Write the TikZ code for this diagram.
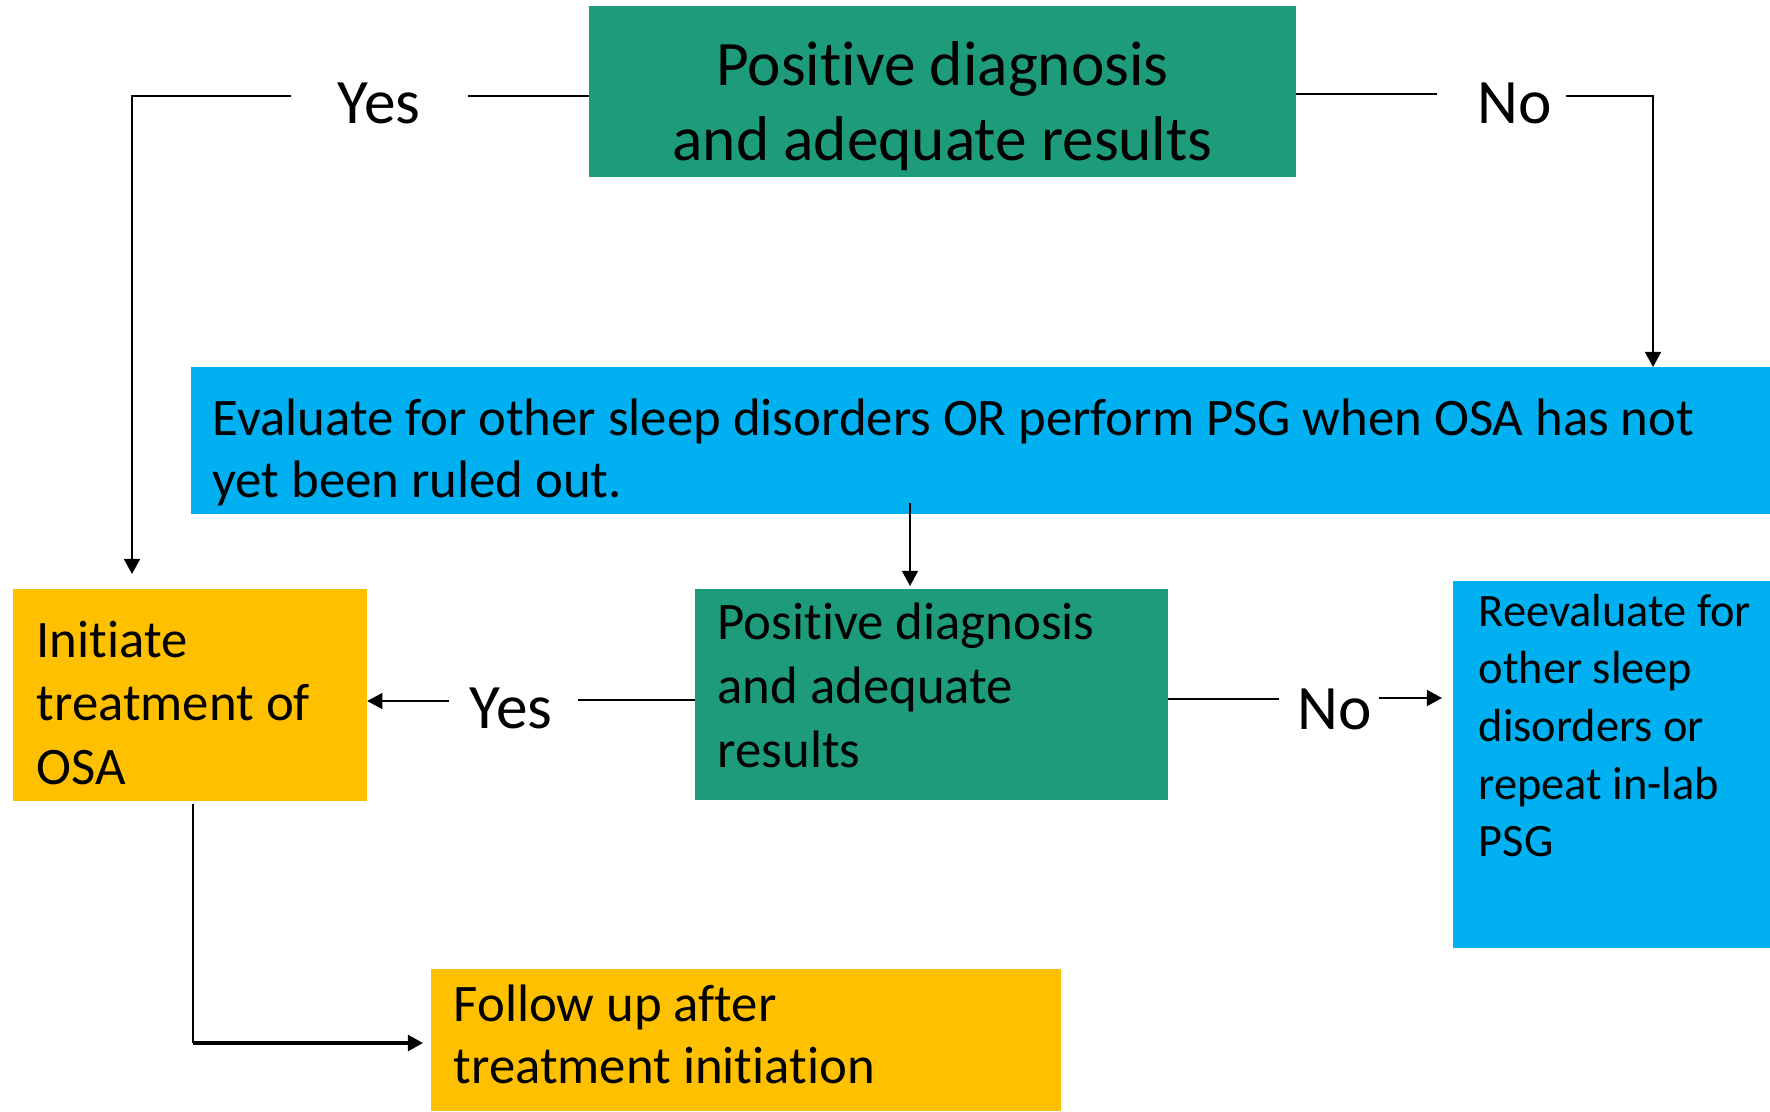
\documentclass[tikz,border=0pt]{standalone}
\usepackage{fontspec}
\setmainfont{Carlito}[Ligatures=NoCommon]
\usetikzlibrary{arrows.meta,calc}
\definecolor{cgreen}{RGB}{30,155,122}
\definecolor{cblue}{RGB}{0,176,240}
\definecolor{cgold}{RGB}{255,192,0}
\begin{document}
\begin{tikzpicture}[x=0.01cm,y=-0.01cm,
 box/.style={draw=none, inner sep=0pt, outer sep=0pt, anchor=north west},
 txt/.style={inner sep=0pt, anchor=base west, align=flush left},
 lbl/.style={inner sep=0pt, anchor=base, font=\fontsize{18}{21.6}\selectfont},
 conn/.style={line width=0.7pt},
 arr/.style={line width=0.7pt, -{Triangle[length=4.3pt,width=4.5pt]}},
]
\useasboundingbox (0,0) rectangle (1770,1111);
% boxes
\node[box, fill=cgreen, minimum width=7.07cm, minimum height=1.71cm] (g1) at (589,6) {};
\node[box, fill=cblue, minimum width=15.79cm, minimum height=1.47cm] (b1) at (191,367) {};
\node[box, fill=cgold, minimum width=3.54cm, minimum height=2.12cm] (o1) at (13,589) {};
\node[box, fill=cgreen, minimum width=4.73cm, minimum height=2.11cm] (g2) at (695,589) {};
\node[box, fill=cblue, minimum width=3.17cm, minimum height=3.67cm] (b2) at (1453,581) {};
\node[box, fill=cgold, minimum width=6.30cm, minimum height=1.42cm] (o2) at (431,969) {};
% texts
\node[inner sep=0pt, anchor=base, text width=7cm, align=flush center, font=\fontsize{18}{21.6}\selectfont] (g1t) at (942.5,85) {Positive diagnosis\\and adequate results};
\node[txt, text width=15.5cm, font=\fontsize{15}{17.64}\selectfont] (b1t) at (212,435) {Evaluate for other sleep disorders OR perform PSG when OSA has not\\yet been ruled out.};
\node[txt, text width=3.3cm, font=\fontsize{15}{18.07}\selectfont] (o1t) at (36,657) {Initiate\\treatment of\\OSA};
\node[txt, text width=4.4cm, font=\fontsize{15}{18.2}\selectfont] (g2t) at (717,639) {Positive diagnosis\\and adequate\\results};
\node[txt, text width=3cm, font=\fontsize{13.2}{16.4}\selectfont] (b2t) at (1478,626) {Reevaluate for\\other sleep\\disorders or\\repeat in-lab\\PSG};
\node[txt, text width=6cm, font=\fontsize{15}{17.9}\selectfont] (o2t) at (453,1021) {Follow up after\\treatment initiation};
% labels
\node[lbl] (yes1) at (379,123) {Yes};
\node[lbl] (no1) at (1515,123) {No};
\node[lbl] (yes2) at (511,728) {Yes};
\node[lbl] (no2) at (1335,729) {No};
% connectors
\coordinate (y1a) at (468,96); \coordinate (y1b) at (291,96); \coordinate (t1) at (132,574);
\draw[conn] (g1.west |- y1a) -- (y1a);
\draw[arr] (y1b) -| (t1);
\coordinate (n1a) at (1437,94); \coordinate (n1b) at (1566,96); \coordinate (t2) at (1653,367);
\draw[conn] (g1.east |- n1a) -- (n1a);
\draw[arr] (n1b) -| (t2);
\coordinate (s3) at (910,503);
\draw[arr, line width=0.6pt, shorten >=0.03cm] (s3) -- (g2.north -| s3);
\coordinate (y2a) at (578,700); \coordinate (y2b) at (449,701);
\draw[conn, line width=0.6pt] (g2.west |- y2a) -- (y2a);
\draw[arr, line width=0.6pt] (y2b) -- (o1.east |- y2b);
\coordinate (n2a) at (1279,699); \coordinate (n2b) at (1379,698);
\draw[conn, line width=0.6pt] (g2.east |- n2a) -- (n2a);
\draw[arr, shorten >=0.11cm] (n2b) -- (b2.west |- n2b);
\coordinate (f1) at (193,1043);
\draw[conn, line width=0.5pt, shorten <=0.03cm] (o1.south -| f1) -- (f1);
\draw[arr, line width=0.9pt, shorten >=0.08cm] (f1) -- (o2.west |- f1);
\end{tikzpicture}
\end{document}
